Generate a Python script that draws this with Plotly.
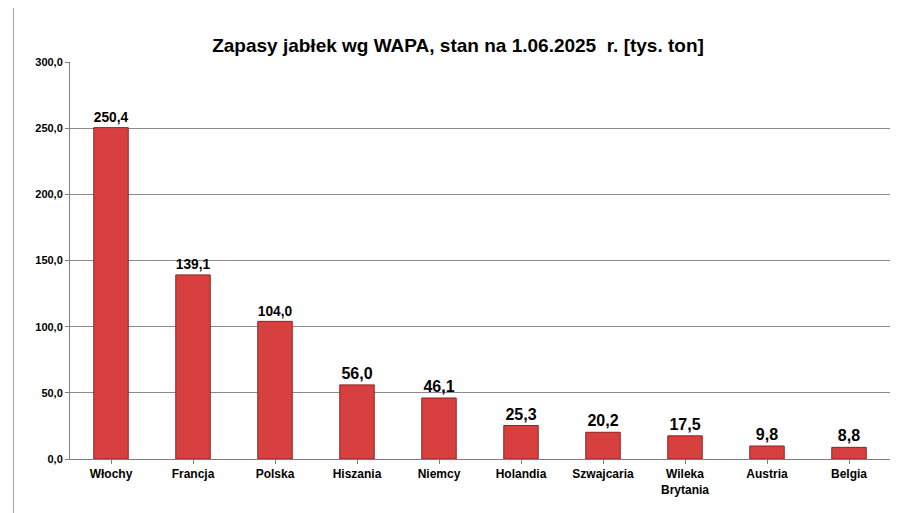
import plotly.graph_objects as go

countries = ['Włochy', 'Francja', 'Polska', 'Hiszania', 'Niemcy', 'Holandia',
             'Szwajcaria', 'Wileka<br>Brytania', 'Austria', 'Belgia']
stocks = [250.4, 139.1, 104.0, 56.0, 46.1, 25.3, 20.2, 17.5, 9.8, 8.8]
labels = [f'<b>{v:.1f}</b>'.replace('.', ',') for v in stocks]
tick_vals = [0, 50, 100, 150, 200, 250, 300]
tick_text = ['<b>0,0</b>', '<b>50,0</b>', '<b>100,0</b>', '<b>150,0</b>',
             '<b>200,0</b>', '<b>250,0</b>', '<b>300,0</b>']

fig = go.Figure(go.Bar(
    x=countries, y=stocks, width=0.42,
    marker=dict(color='#d8403f', line=dict(color='#8e2020', width=1)),
    text=labels, textposition='outside',
    textfont=dict(size=16, color='black', family='Liberation Sans'),
    cliponaxis=False,
))

fig.update_layout(
    width=900, height=513,
    paper_bgcolor='white', plot_bgcolor='white',
    margin=dict(l=62, r=18, t=54, b=62),
    title=dict(text='<b>Zapasy jabłek wg WAPA, stan na 1.06.2025  r. [tys. ton]</b>',
               x=0.5, xanchor='center', y=0.94,
               font=dict(size=19, color='black', family='Liberation Sans')),
    font=dict(family='Liberation Sans', size=12, color='black'),
    showlegend=False,
    shapes=[dict(type='rect', xref='paper', yref='paper',
                 x0=-0.069, x1=1.015, y0=-0.17, y1=1.15,
                 line=dict(color='#a0a0a0', width=1))],
)
fig.update_xaxes(showline=True, linecolor='#808080', tickfont=dict(size=12),
                 ticks='outside', ticklen=4, tickcolor='#808080',
                 tickvals=countries, ticktext=[f'<b>{c}</b>' for c in countries])
fig.update_yaxes(range=[0, 300], tickvals=tick_vals, ticktext=tick_text,
                 showgrid=True, gridcolor='#8c8c8c', gridwidth=1,
                 showline=True, linecolor='#808080',
                 ticks='outside', ticklen=4, tickcolor='#808080',
                 tickfont=dict(size=11), zeroline=False)

fig.write_html('out.html')
